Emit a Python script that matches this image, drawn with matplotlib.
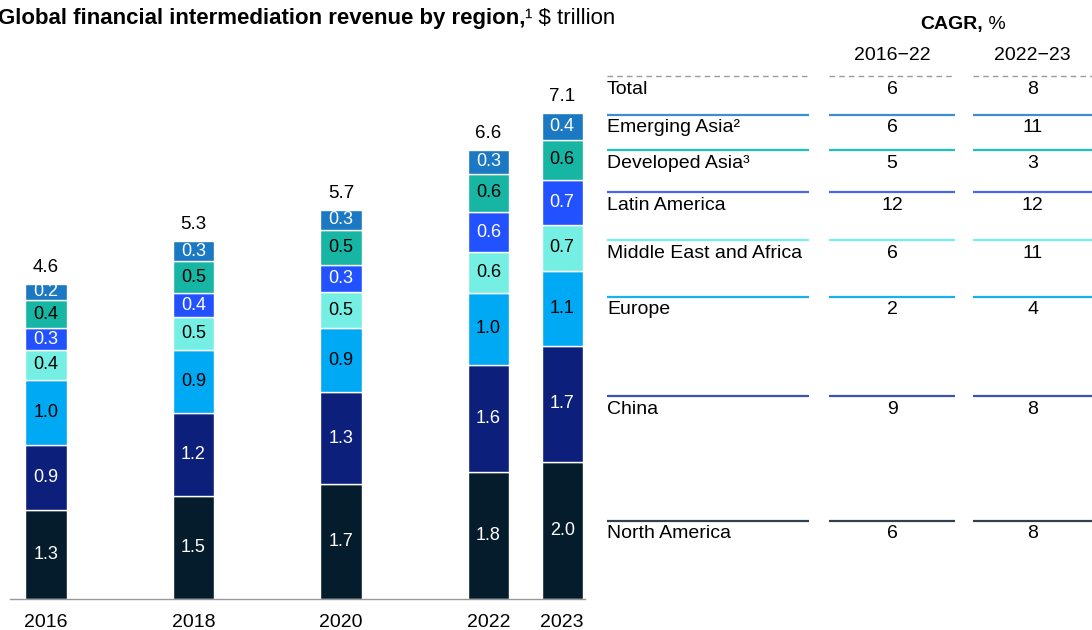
import matplotlib
matplotlib.use("Agg")
import matplotlib.pyplot as plt

plt.rcParams["font.family"] = ["Liberation Sans", "DejaVu Sans"]

YEARS = [2016, 2018, 2020, 2022, 2023]
TOTAL_LABELS = ["4.6", "5.3", "5.7", "6.6", "7.1"]

# segment sizes in $ trillion, bottom to top
NORTH_AMERICA = [1.30, 1.50, 1.68, 1.85, 2.00]
CHINA = [0.95, 1.21, 1.34, 1.57, 1.70]
EUROPE = [0.95, 0.92, 0.93, 1.05, 1.09]
MIDDLE_EAST_AFRICA = [0.44, 0.48, 0.53, 0.59, 0.67]
LATIN_AMERICA = [0.31, 0.35, 0.40, 0.59, 0.66]
DEVELOPED_ASIA = [0.42, 0.48, 0.51, 0.56, 0.58]
EMERGING_ASIA = [0.23, 0.28, 0.29, 0.35, 0.39]

# printed labels inside the segments
NORTH_AMERICA_LBL = ["1.3", "1.5", "1.7", "1.8", "2.0"]
CHINA_LBL = ["0.9", "1.2", "1.3", "1.6", "1.7"]
EUROPE_LBL = ["1.0", "0.9", "0.9", "1.0", "1.1"]
MIDDLE_EAST_AFRICA_LBL = ["0.4", "0.5", "0.5", "0.6", "0.7"]
LATIN_AMERICA_LBL = ["0.3", "0.4", "0.3", "0.6", "0.7"]
DEVELOPED_ASIA_LBL = ["0.4", "0.5", "0.5", "0.6", "0.6"]
EMERGING_ASIA_LBL = ["0.2", "0.3", "0.3", "0.3", "0.4"]

# CAGR table
TABLE_ROWS = ["Total", "Emerging Asia\u00b2", "Developed Asia\u00b3", "Latin America",
              "Middle East and Africa", "Europe", "China", "North America"]
CAGR_2016_22 = [6, 6, 5, 12, 6, 2, 9, 6]
CAGR_2022_23 = [8, 11, 3, 12, 11, 4, 8, 8]

C_NA = "#051c2c"
C_CN = "#0c1f7a"
C_EU = "#00a9f4"
C_MEA = "#75efe3"
C_LA = "#2251ff"
C_DA = "#17b5a4"
C_EA = "#1b78c2"

segments = [
    (NORTH_AMERICA, NORTH_AMERICA_LBL, C_NA, "white"),
    (CHINA, CHINA_LBL, C_CN, "white"),
    (EUROPE, EUROPE_LBL, C_EU, "black"),
    (MIDDLE_EAST_AFRICA, MIDDLE_EAST_AFRICA_LBL, C_MEA, "black"),
    (LATIN_AMERICA, LATIN_AMERICA_LBL, C_LA, "white"),
    (DEVELOPED_ASIA, DEVELOPED_ASIA_LBL, C_DA, "black"),
    (EMERGING_ASIA, EMERGING_ASIA_LBL, C_EA, "white"),
]

# table layout (pixel rows, top of each row line) and line colours
ROW_Y = [76, 115, 150, 192, 240, 297, 396, 521]
ROW_COLORS = ["#9a9a9a", "#3b8fd0", "#1ec4bb", "#4a66ee", "#74efee", "#1ab0f0", "#3d55a6", "#34404e"]

W, H = 1092, 630
fig = plt.figure(figsize=(W / 100, H / 100), dpi=100)

ax = fig.add_axes([10 / W, 31 / H, 575 / W, 548 / H])
bottoms = [0.0] * len(YEARS)
for vals, lbls, color, tcolor in segments:
    ax.bar(YEARS, vals, width=0.56, bottom=bottoms, color=color,
           edgecolor="white", linewidth=1.0)
    for x, b, v, lab in zip(YEARS, bottoms, vals, lbls):
        ax.text(x, b + v / 2, lab, ha="center", va="center", color=tcolor,
                fontsize=13)
    bottoms = [b + v for b, v in zip(bottoms, vals)]

for x, top, lab in zip(YEARS, bottoms, TOTAL_LABELS):
    ax.text(x, top + 0.24, lab, ha="center", va="center", fontsize=13.5, color="black")

ax.set_xlim(2015.51, 2023.31)
ax.set_ylim(0, 8)
ax.set_xticks(YEARS)
ax.set_xticklabels([str(y) for y in YEARS], fontsize=14)
ax.tick_params(axis="x", length=0, pad=11)
ax.set_yticks([])
for s in ["top", "right", "left"]:
    ax.spines[s].set_visible(False)
ax.spines["bottom"].set_color("#999999")
ax.spines["bottom"].set_linewidth(1.0)

# overlay for title and table, in pixel coordinates
tax = fig.add_axes([0, 0, 1, 1])
tax.set_xlim(0, W)
tax.set_ylim(H, 0)
tax.axis("off")

t = tax.text(-2, 24, "Global financial intermediation revenue by region,",
             fontsize=16, fontweight="bold", va="baseline", ha="left")
tax.annotate("\u00b9 $ trillion", xy=(1, 24), xycoords=(t, "data"),
             fontsize=16, va="baseline", ha="left")

h = tax.text(920, 29, "CAGR,", fontsize=14, fontweight="bold", va="baseline", ha="left")
tax.annotate(" %", xy=(1, 29), xycoords=(h, "data"), fontsize=14, va="baseline", ha="left")

COL_LABEL = (607, 809)
COL_A = (829, 955)
COL_B = (973, 1092)
tax.text((COL_A[0] + COL_A[1]) / 2, 56, "2016\u221222", fontsize=14, ha="center", va="center")
tax.text((COL_B[0] + COL_B[1]) / 2, 56, "2022\u221223", fontsize=14, ha="center", va="center")

for i, (name, a, b) in enumerate(zip(TABLE_ROWS, CAGR_2016_22, CAGR_2022_23)):
    y = ROW_Y[i]
    ls = (0, (4, 3)) if i == 0 else "-"
    lw = 1.0 if i == 0 else 1.6
    for x0, x1 in (COL_LABEL, COL_A, COL_B):
        tax.plot([x0, x1], [y, y], color=ROW_COLORS[i], linestyle=ls, linewidth=lw,
                 solid_capstyle="butt")
    tax.text(COL_LABEL[0], y + 13, name, fontsize=14, ha="left", va="center")
    tax.text((COL_A[0] + COL_A[1]) / 2, y + 13, str(a), fontsize=14, ha="center", va="center")
    tax.text((COL_B[0] + COL_B[1]) / 2, y + 13, str(b), fontsize=14, ha="center", va="center")

fig.savefig("out.png", dpi=100)
plt.close(fig)
